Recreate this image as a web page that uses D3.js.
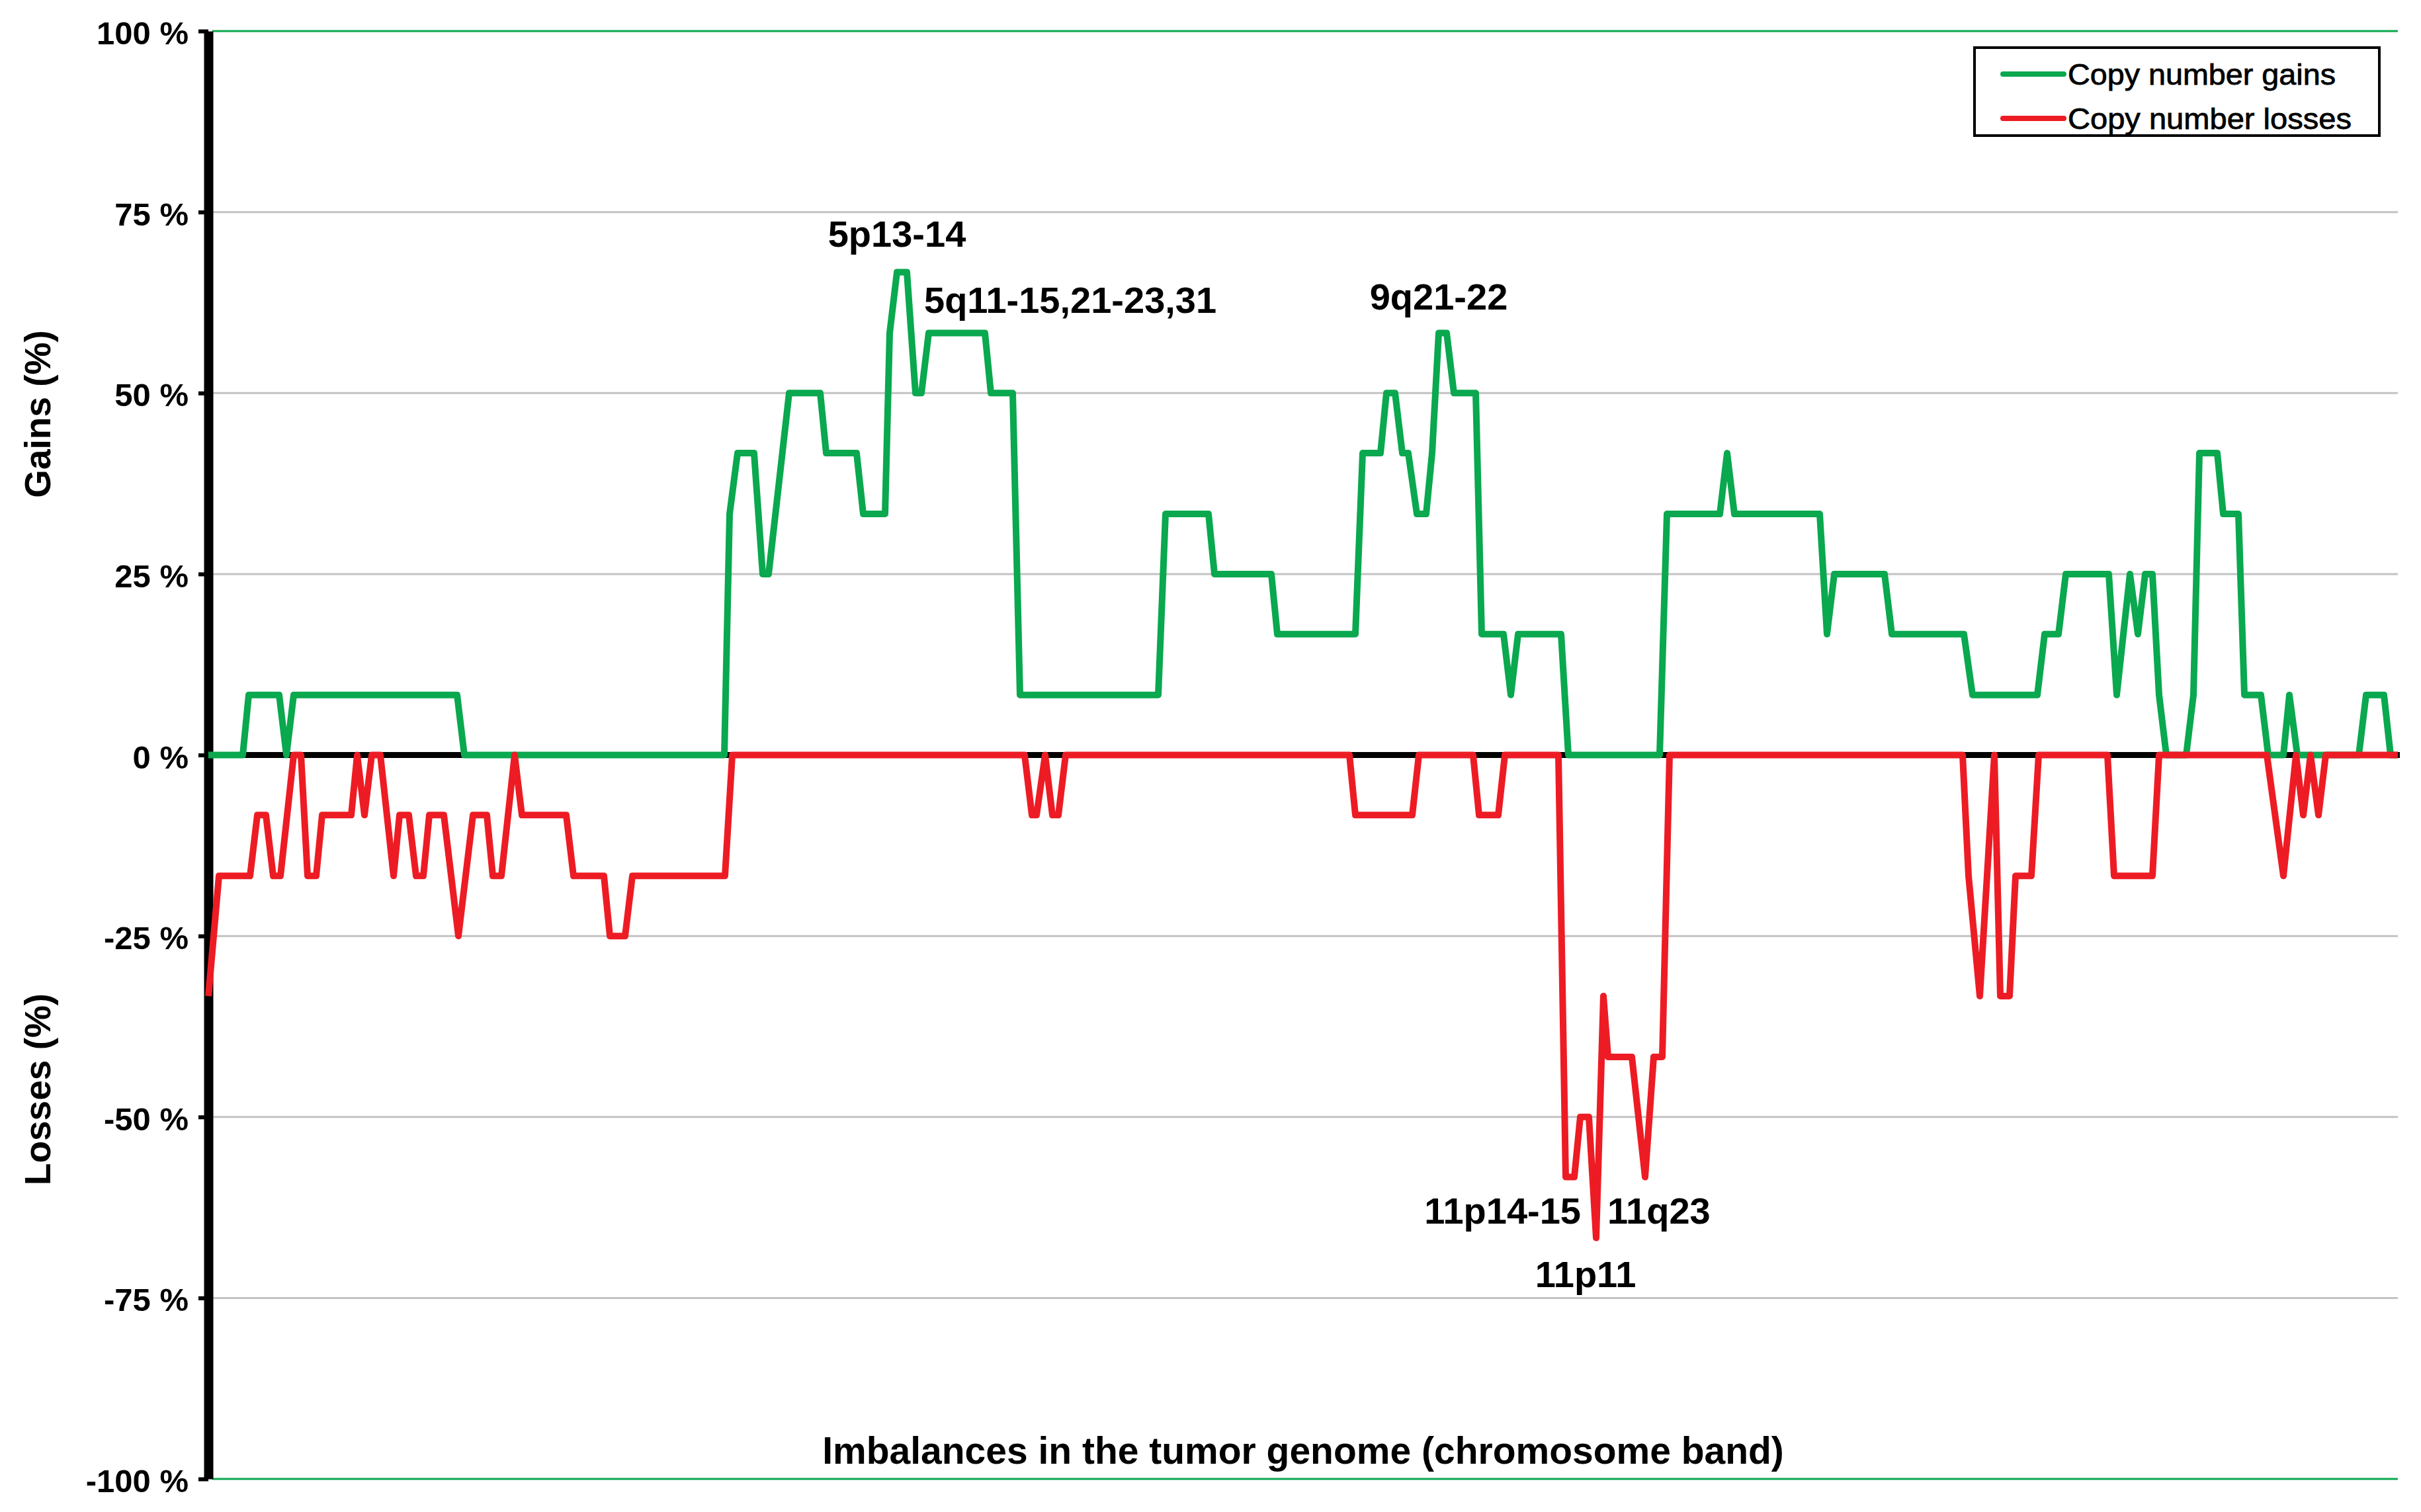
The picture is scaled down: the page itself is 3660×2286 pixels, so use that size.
<!DOCTYPE html>
<html>
<head>
<meta charset="utf-8">
<script src="https://cdn.jsdelivr.net/npm/d3@7"></script>
<style>
  html, body { margin: 0; padding: 0; background: #fff; }
  svg { display: block; font-family: "Liberation Sans", Arial, sans-serif; }
</style>
</head>
<body>
<svg id="chart" width="3660" height="2286"></svg>
<script>
// ---- Data (genome position in band units, percentage of cases) ----
const gainPos = [0, 5.2, 6.1, 10.7, 11.8, 12.9, 37.6, 38.7, 78.0, 78.8, 80.0, 82.5, 83.8, 84.7, 87.8, 92.5, 93.4, 98.0, 99.0, 102.3, 103.0, 104.1, 105.6, 106.9, 107.8, 108.9, 117.4, 118.3, 121.6, 122.7, 143.6, 144.7, 151.2, 152.1, 160.7, 161.6, 173.4, 174.5, 177.2, 178.1, 179.4, 180.5, 181.4, 182.7, 184.1, 185.0, 186.0, 187.2, 188.3, 191.6, 192.5, 195.8, 196.9, 198.0, 204.5, 205.6, 219.4, 220.5, 228.5, 229.6, 230.7, 243.6, 244.7, 245.8, 253.4, 254.5, 265.4, 266.7, 276.5, 277.6, 279.7, 280.8, 287.3, 288.5, 290.5, 291.7, 292.8, 293.9, 294.9, 296.0, 299.0, 300.1, 301.0, 303.7, 304.6, 306.9, 307.8, 310.3, 311.4, 313.7, 314.6, 315.8, 325.1, 326.2, 328.9, 329.9, 331.0];
const gainPct = [0, 0, 8.3, 8.3, 0, 8.3, 8.3, 0, 0, 33.3, 41.7, 41.7, 25, 25, 50, 50, 41.7, 41.7, 33.3, 33.3, 58.3, 66.7, 66.7, 50, 50, 58.3, 58.3, 50, 50, 8.3, 8.3, 33.3, 33.3, 25, 25, 16.7, 16.7, 41.7, 41.7, 50, 50, 41.7, 41.7, 33.3, 33.3, 41.7, 58.3, 58.3, 50, 50, 16.7, 16.7, 8.3, 16.7, 16.7, 0, 0, 33.3, 33.3, 41.7, 33.3, 33.3, 16.7, 25, 25, 16.7, 16.7, 8.3, 8.3, 16.7, 16.7, 25, 25, 8.3, 25, 16.7, 25, 25, 8.3, 0, 0, 8.3, 41.7, 41.7, 33.3, 33.3, 8.3, 8.3, 0, 0, 8.3, 0, 0, 8.3, 8.3, 0, 0];

const lossPos = [0, 1.6, 6.3, 7.4, 8.7, 9.8, 10.9, 12.9, 14.0, 15.0, 16.3, 17.2, 21.6, 22.5, 23.6, 24.7, 26.0, 28.0, 28.9, 30.3, 31.4, 32.5, 33.4, 35.6, 37.8, 40.0, 42.1, 43.0, 44.3, 46.3, 47.4, 54.1, 55.2, 59.8, 60.7, 63.0, 64.1, 78.1, 79.2, 123.4, 124.5, 125.2, 126.5, 127.6, 128.5, 129.6, 172.5, 173.4, 182.0, 183.0, 191.2, 192.1, 195.0, 196.0, 204.1, 205.2, 206.5, 207.4, 208.7, 209.8, 210.9, 211.6, 215.2, 217.2, 218.5, 219.8, 220.9, 265.2, 266.1, 267.8, 270.0, 270.9, 272.3, 273.2, 275.6, 276.7, 287.1, 288.1, 293.9, 294.9, 311.2, 313.7, 315.6, 316.7, 317.8, 319.0, 320.1, 331.0];
const lossPct = [-33.3, -16.7, -16.7, -8.3, -8.3, -16.7, -16.7, 0, 0, -16.7, -16.7, -8.3, -8.3, 0, -8.3, 0, 0, -16.7, -8.3, -8.3, -16.7, -16.7, -8.3, -8.3, -25, -8.3, -8.3, -16.7, -16.7, 0, -8.3, -8.3, -16.7, -16.7, -25, -25, -16.7, -16.7, 0, 0, -8.3, -8.3, 0, -8.3, -8.3, 0, 0, -8.3, -8.3, 0, 0, -8.3, -8.3, 0, 0, -58.3, -58.3, -50, -50, -66.7, -33.3, -41.7, -41.7, -58.3, -41.7, -41.7, 0, 0, -16.7, -33.3, 0, -33.3, -33.3, -16.7, -16.7, 0, 0, -16.7, -16.7, 0, 0, -16.7, 0, -8.3, 0, -8.3, 0, 0];

const yTicks = [-100, -75, -50, -25, 0, 25, 50, 75, 100];
const seriesNames = ["Copy number gains", "Copy number losses"];
const annoLabels = ["5p13-14", "5q11-15,21-23,31", "9q21-22", "11p14-15", "11q23", "11p11"];
const annoPos = [104.1, 108.2, 186.0, 207.5, 211.5, 208.2];
const annoPct = [66.7, 58.3, 58.3, -58.3, -58.3, -66.7];

// ---- Styles / layout ----
const GREEN = "#0aa84f", RED = "#ed1c24", GRID = "#c3c3c3";
const mLeft = 315, mRight = 3625, mTop = 47, mBottom = 2236;

const svg = d3.select("#chart");
svg.append("rect").attr("width", 3660).attr("height", 2286).attr("fill", "#fff");

const x = d3.scaleLinear().domain([0, 331]).range([mLeft, mRight]);
const y = d3.scaleLinear().domain([-100, 100]).range([mBottom, mTop]);

// gridlines
svg.append("g").selectAll("line")
  .data(yTicks.filter(v => v !== 0))
  .join("line")
  .attr("x1", mLeft + 6).attr("x2", mRight)
  .attr("y1", d => y(d)).attr("y2", d => y(d))
  .attr("stroke", d => Math.abs(d) === 100 ? GREEN : GRID)
  .attr("stroke-width", 3);

// zero line
svg.append("line")
  .attr("x1", mLeft).attr("x2", mRight + 3)
  .attr("y1", y(0)).attr("y2", y(0))
  .attr("stroke", "#000").attr("stroke-width", 9);

// axis
const yAxis = d3.axisLeft(y).tickValues(yTicks).tickSize(15).tickSizeOuter(0).tickPadding(15)
  .tickFormat(d => d + " %");
const ag = svg.append("g").attr("transform", `translate(${mLeft},0)`).call(yAxis);
ag.select(".domain").attr("stroke", "#000").attr("stroke-width", 14);
ag.selectAll(".tick line").attr("stroke", "#000").attr("stroke-width", 6);
ag.selectAll(".tick text")
  .attr("font-family", "'Liberation Sans', Arial, sans-serif")
  .attr("font-size", 49).attr("font-weight", "bold").attr("fill", "#000")
  .attr("dy", "0.4em");

// lines
const line = d3.line().x(d => x(d[0])).y(d => y(d[1])).curve(d3.curveLinear);
const gains = gainPos.map((p, i) => [p, gainPct[i]]);
const losses = lossPos.map((p, i) => [p, lossPct[i]]);
svg.append("path").datum(gains).attr("d", line)
  .attr("fill", "none").attr("stroke", GREEN).attr("stroke-width", 10)
  .attr("stroke-linejoin", "round");
svg.append("path").datum(losses).attr("d", line)
  .attr("fill", "none").attr("stroke", RED).attr("stroke-width", 10)
  .attr("stroke-linejoin", "round");

// annotations
const annoStyle = [
  {anchor: "middle", dy: -38},
  {anchor: "start", dy: -30},
  {anchor: "middle", dy: -35},
  {anchor: "end", dy: 70},
  {anchor: "start", dy: 70},
  {anchor: "middle", dy: 74}
];
svg.append("g").selectAll("text")
  .data(annoLabels)
  .join("text")
  .attr("x", (d, i) => x(annoPos[i]))
  .attr("y", (d, i) => y(annoPct[i]) + annoStyle[i].dy)
  .attr("text-anchor", (d, i) => annoStyle[i].anchor)
  .attr("font-size", 56).attr("font-weight", "bold").attr("fill", "#000")
  .text(d => d);

// axis titles
svg.append("text")
  .attr("transform", "translate(76,626) rotate(-90)")
  .attr("text-anchor", "middle").attr("font-size", 55).attr("font-weight", "bold")
  .text("Gains (%)");
svg.append("text")
  .attr("transform", "translate(76,1647) rotate(-90)")
  .attr("text-anchor", "middle").attr("font-size", 55).attr("font-weight", "bold")
  .text("Losses (%)");
svg.append("text")
  .attr("x", (mLeft + mRight) / 2).attr("y", 2213)
  .attr("text-anchor", "middle").attr("font-size", 57).attr("font-weight", "bold")
  .text("Imbalances in the tumor genome (chromosome band)");

// legend
const lg = svg.append("g");
lg.append("rect").attr("x", 2985).attr("y", 72).attr("width", 612).attr("height", 133)
  .attr("fill", "#fff").attr("stroke", "#000").attr("stroke-width", 4);
const legRows = lg.selectAll("g.row").data(seriesNames).join("g").attr("class", "row")
  .attr("transform", (d, i) => `translate(0,${112 + i * 67})`);
legRows.append("line").attr("x1", 3028).attr("x2", 3120).attr("y1", 0).attr("y2", 0)
  .attr("stroke", (d, i) => i === 0 ? GREEN : RED).attr("stroke-width", 8)
  .attr("stroke-linecap", "round");
legRows.append("text").attr("x", 3126).attr("y", 16)
  .attr("font-size", 45).attr("fill", "#000")
  .attr("stroke", "#000").attr("stroke-width", 0.8)
  .attr("textLength", (d, i) => i === 0 ? 405 : 429)
  .attr("lengthAdjust", "spacingAndGlyphs")
  .text(d => d);
</script>
</body>
</html>
